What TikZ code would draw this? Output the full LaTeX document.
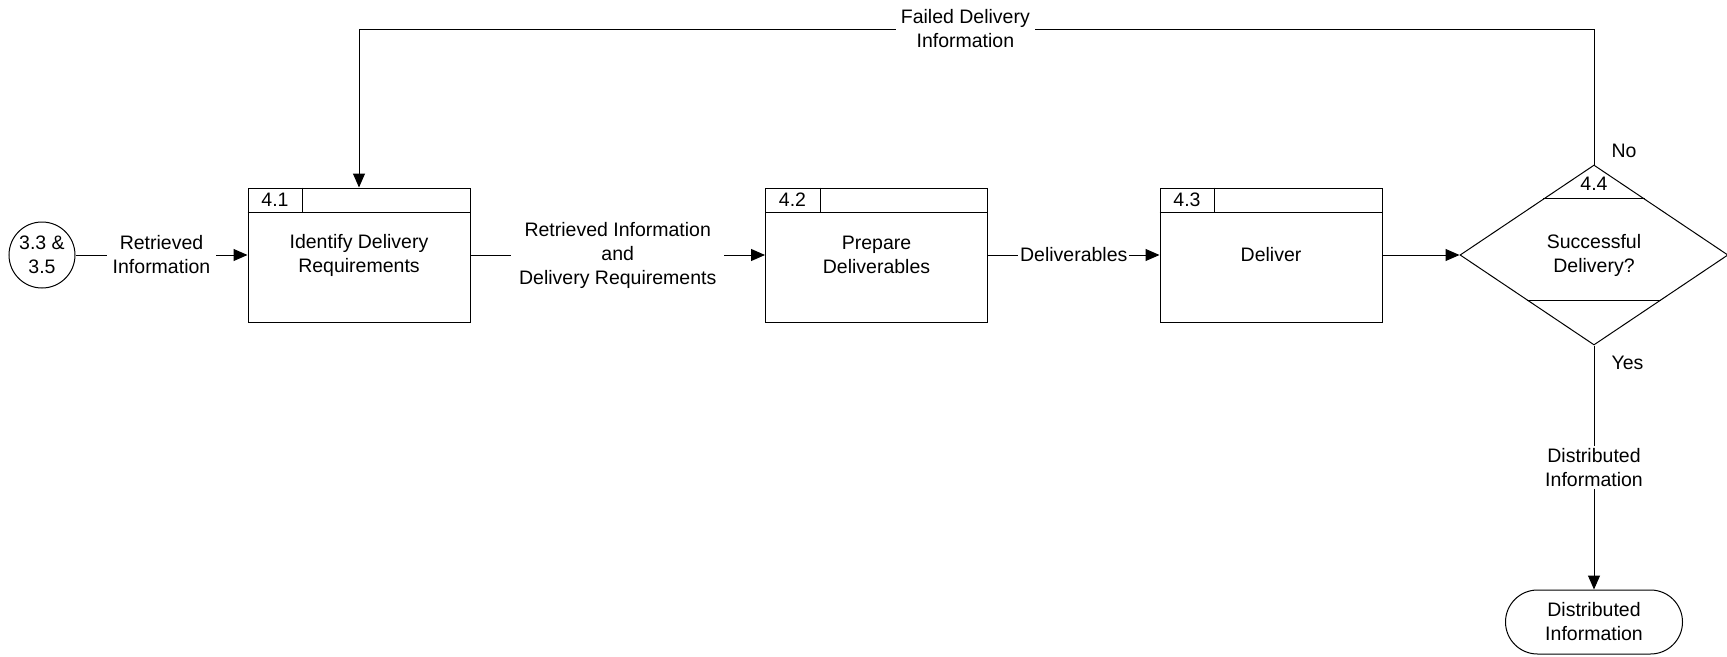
\documentclass[tikz,border=0pt]{standalone}
\usepackage{fontspec}
\setmainfont{Liberation Sans}
\usetikzlibrary{shapes.geometric,arrows.meta,calc}
\begin{document}
\begin{tikzpicture}[x=1pt,y=-1pt,
  every node/.style={font=\fontsize{19.5}{24}\selectfont, align=center},
  proc/.style={draw, line width=1pt, minimum width=222pt, minimum height=134pt, inner sep=0pt},
  flow/.style={line width=1pt, -{Triangle[length=14pt,width=12pt]}},
  lbl/.style={fill=white, inner xsep=6pt, inner ysep=2pt},
]
\useasboundingbox (0,0) rectangle (1727,656);

% processes
\node[draw, circle, minimum size=66pt, inner sep=0pt, line width=1pt] (src) at (42,255) {3.3 \&\\3.5};
\node[proc] (b1) at (359,255) {Identify Delivery\\Requirements};
\node[proc] (b2) at (876.5,255) {Prepare\\Deliverables};
\node[proc] (b3) at (1271,255) {Deliver};
\node[draw, diamond, minimum width=268pt, minimum height=180pt, inner sep=0pt, line width=1pt] (dia) at (1594,255) {Successful\\Delivery?};
\node[draw, rounded corners=32pt, minimum width=177pt, minimum height=64pt, line width=1pt] (term) at (1594,622) {Distributed\\Information};

% header strips of the process boxes
\foreach \b/\n in {b1/4.1, b2/4.2, b3/4.3}{
  \draw[line width=1pt] ($(\b.north west)+(0,25)$) -- ($(\b.north east)+(0,25)$);
  \draw[line width=1pt] ($(\b.north west)+(55,0)$) -- ($(\b.north west)+(55,25)$);
  \node (\b num) at ($(\b.north west)+(27.5,12.5)$) {\n};
}

% bands of the decision
\draw[line width=1pt] ($(dia.north)!34/90!(dia.west)$) -- ($(dia.north)!34/90!(dia.east)$);
\draw[line width=1pt] ($(dia.south)!0.5!(dia.west)$) -- ($(dia.south)!0.5!(dia.east)$);
\node (dnum) at ($(dia.north)+(0,19)$) {4.4};

% flows
\draw[flow] (src.east) -- node[lbl]{Retrieved\\Information} (b1.west);
\draw[flow] (b1.east) -- node[lbl, inner xsep=8pt]{Retrieved Information\\and\\Delivery Requirements} (b2.west);
\draw[flow] (b2.east) -- node[lbl, inner xsep=2pt]{Deliverables} (b3.west);
\draw[flow] (b3.east) -- (dia.west);

\coordinate (fb) at (0,29);
\draw[flow] (dia.north) -- (dia.north |- fb)
  -- node[lbl, pos=0.509, inner xsep=5pt]{Failed Delivery\\Information} (b1.north |- fb)
  -- (b1.north);
\node[anchor=west] (no) at (1608,151) {No};

\draw[flow] (dia.south) -- node[lbl]{Distributed\\Information} (term.north);
\node[anchor=west] (yes) at (1608,363) {Yes};
\end{tikzpicture}
\end{document}
